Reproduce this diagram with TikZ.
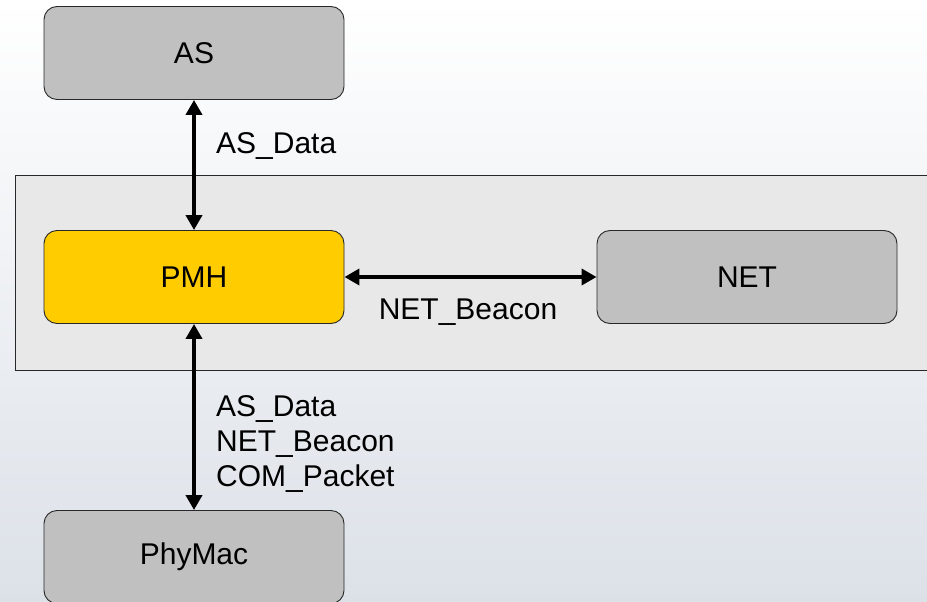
\documentclass[tikz,border=0pt]{standalone}
\usepackage{fontspec}
\setmainfont{Liberation Sans}
\usetikzlibrary{arrows.meta}
\definecolor{boxgray}{RGB}{192,192,192}
\definecolor{pmhyellow}{RGB}{255,204,0}
\definecolor{framegray}{RGB}{232,232,232}
\definecolor{bgbottom}{RGB}{220,225,232}
\definecolor{edgegray}{RGB}{40,40,40}
\tikzset{
  block/.style={draw=edgegray, line width=0.9pt, rounded corners=13pt,
    minimum width=300pt, minimum height=93pt, inner sep=0pt,
    font=\fontsize{30}{35}\selectfont},
  link/.style={line width=4pt, {Triangle[length=15pt,width=16pt]}-{Triangle[length=15pt,width=16pt]}},
  lbl/.style={font=\fontsize{30}{35}\selectfont, inner sep=0pt}
}
\begin{document}
\begin{tikzpicture}[x=1pt,y=-1pt]
  \clip (0,0) rectangle (927,602);
  % page background
  \shade[top color=white, bottom color=bgbottom] (0,0) rectangle (927,602);
  % enclosing frame
  \draw[fill=framegray, draw=edgegray, line width=0.9pt] (15,175) rectangle (940,370);
  % blocks
  \node[block, fill=boxgray] (as) at (194,53) {AS};
  \node[block, fill=pmhyellow] (pmh) at (194,277) {PMH};
  \node[block, fill=boxgray] (net) at (747,277) {NET};
  \node[block, fill=boxgray] (phy) at (194,557) {PhyMac};
  % connectors
  \draw[link] (as.south) -- (pmh.north);
  \draw[link] (pmh.east) -- (net.west);
  \draw[link] (pmh.south) -- (phy.north);
  % labels
  \node[lbl, anchor=west] (lasdata) at (216,146) {AS\_Data};
  \node[lbl] (lbeacon) at (468,312) {NET\_Beacon};
  \node[lbl, anchor=north west, align=left] (lphy) at (216,395)
    {AS\_Data\\NET\_Beacon\\COM\_Packet};
\end{tikzpicture}
\end{document}
